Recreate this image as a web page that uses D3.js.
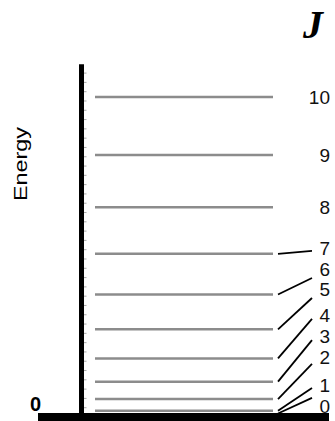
<!DOCTYPE html>
<html lang="en">
<head>
    <meta charset="utf-8">
    <title>D3: Rotational Energy Levels</title>
    <script type="text/javascript" src="https://d3js.org/d3.v7.min.js"></script>
    <style>
        body { margin: 0; background: #fff; }
    </style>
</head>
<body>
    <script type="text/javascript">

        // Rotational quantum numbers and their energies
        var jValues = [0, 1, 2, 3, 4, 5, 6, 7, 8, 9, 10];
        var energies = [0, 2, 6, 12, 20, 30, 42, 56, 72, 90, 110];

        // Where each J label sits, in energy units (low ones are spread out)
        var labelEnergies = [3.6, 10.8, 20.6, 27.6, 34.9, 44.0, 50.6, 58.0, 72, 90, 110];

        // Leader line end points (energy units), only for J = 0..7
        var leaderJ = [0, 1, 2, 3, 4, 5, 6, 7];
        var leaderEnds = [6.4, 9.8, 18.1, 26.3, 33.6, 40.8, 47.7, 57.0];

        var width = 335, height = 421;

        var svg = d3.select("body").append("svg")
            .attr("width", width)
            .attr("height", height);

        // Vertical energy scale
        var y = d3.scaleLinear()
            .domain([0, 110])
            .range([416.5, 97]);

        var axisX = 81.5;

        // Faint minor ticks on the energy axis
        var tickAxis = d3.axisRight(y)
            .tickValues(d3.range(0, 121, 3.2))
            .tickSize(3)
            .tickFormat("");

        var ticks = svg.append("g")
            .attr("transform", "translate(" + (axisX + 2) + ",0)")
            .call(tickAxis);
        ticks.select(".domain").remove();
        ticks.selectAll("line").attr("stroke", "#aaa");

        // Energy axis
        svg.append("line")
            .attr("x1", axisX).attr("x2", axisX)
            .attr("y1", y(121.3)).attr("y2", y(0))
            .attr("stroke", "#000")
            .attr("stroke-width", 5);

        // Ground line
        svg.append("line")
            .attr("x1", 38).attr("x2", 329)
            .attr("y1", y(0) + 0.5).attr("y2", y(0) + 0.5)
            .attr("stroke", "#000")
            .attr("stroke-width", 8);

        // Energy levels
        var lineX1 = 95, lineX2 = 273;
        svg.selectAll("line.level")
            .data(energies.slice(1))
            .enter()
            .append("line")
            .attr("class", "level")
            .attr("x1", lineX1).attr("x2", lineX2)
            .attr("y1", function(d) { return y(d); })
            .attr("y2", function(d) { return y(d); })
            .attr("stroke", "#8c8c8c")
            .attr("stroke-width", 2.5);

        // Leader lines from the levels to their labels
        svg.selectAll("line.leader")
            .data(leaderJ)
            .enter()
            .append("line")
            .attr("class", "leader")
            .attr("x1", 278).attr("x2", 312)
            .attr("y1", function(d) { return y(energies[d]) - (d === 0 ? 3 : 0); })
            .attr("y2", function(d, i) { return y(leaderEnds[i]); })
            .attr("stroke", "#000")
            .attr("stroke-width", 1.8);

        // J labels
        svg.selectAll("text.jlabel")
            .data(jValues)
            .enter()
            .append("text")
            .attr("class", "jlabel")
            .attr("x", 330)
            .attr("y", function(d, i) { return y(labelEnergies[i]); })
            .attr("dy", "0.36em")
            .attr("text-anchor", "end")
            .style("font-family", "'Liberation Sans', Arial, sans-serif")
            .style("font-size", "19px")
            .attr("fill", "#111")
            .text(function(d) { return d; });

        // Column title
        svg.append("text")
            .attr("x", 313)
            .attr("y", 38)
            .attr("text-anchor", "middle")
            .style("font-family", "'Liberation Serif', 'Times New Roman', serif")
            .style("font-style", "italic")
            .style("font-weight", "bold")
            .style("font-size", "40px")
            .text("J");

        // Zero on the energy axis
        svg.append("text")
            .attr("x", 41)
            .attr("y", 411)
            .attr("text-anchor", "end")
            .style("font-family", "'Liberation Sans', Arial, sans-serif")
            .style("font-weight", "bold")
            .style("font-size", "20px")
            .text("0");

        // Axis title
        svg.append("text")
            .attr("transform", "translate(27,164) rotate(-90)")
            .attr("text-anchor", "middle")
            .attr("textLength", 74)
            .attr("lengthAdjust", "spacingAndGlyphs")
            .style("font-family", "'Liberation Sans', Arial, sans-serif")
            .style("font-size", "18px")
            .text("Energy");

    </script>
</body>
</html>
